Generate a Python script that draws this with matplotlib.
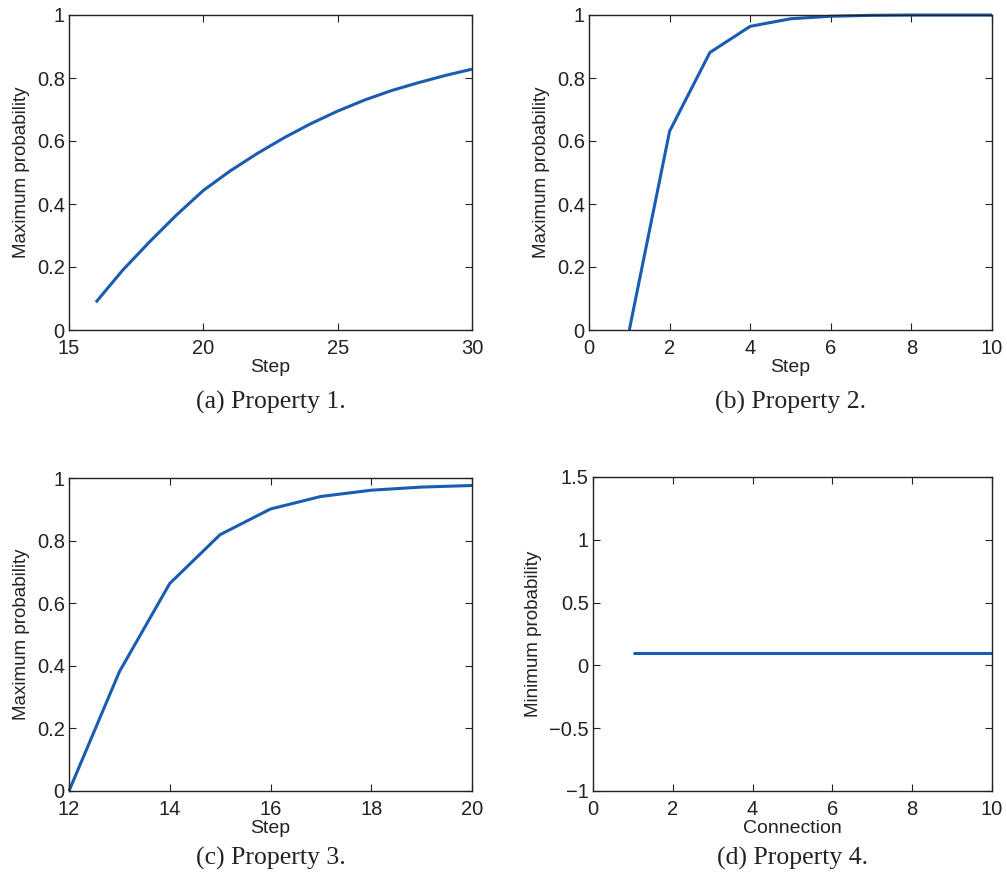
import matplotlib
matplotlib.use("Agg")
import matplotlib.pyplot as plt

# Data
steps_a = [16, 17, 18, 19, 20, 21, 22, 23, 24, 25, 26, 27, 28, 29, 30]
prob_a = [0.088, 0.19, 0.28, 0.365, 0.443, 0.505, 0.56, 0.61, 0.655, 0.695,
          0.73, 0.76, 0.785, 0.808, 0.828]

steps_b = [1, 2, 3, 4, 5, 6, 7, 8, 9, 10]
prob_b = [0.0, 0.631, 0.881, 0.964, 0.988, 0.996, 0.999, 1.0, 1.0, 1.0]

steps_c = [12, 13, 14, 15, 16, 17, 18, 19, 20]
prob_c = [0.0, 0.381, 0.663, 0.819, 0.901, 0.941, 0.961, 0.971, 0.976]

conn_d = [1, 2, 3, 4, 5, 6, 7, 8, 9, 10]
prob_d = [0.1, 0.1, 0.1, 0.1, 0.1, 0.1, 0.1, 0.1, 0.1, 0.1]

captions = ["(a) Property 1.", "(b) Property 2.", "(c) Property 3.", "(d) Property 4."]

W, H = 1007, 880
fig = plt.figure(figsize=(W / 100, H / 100), dpi=100)

LINE = "#1a5cb0"
SANS = ["Liberation Sans", "DejaVu Sans"]
SERIF = ["Liberation Serif", "DejaVu Serif"]


def mk_axes(l, t, r, b):
    return fig.add_axes([l / W, 1 - b / H, (r - l) / W, (b - t) / H])


def style(ax):
    ax.tick_params(direction="in", top=True, right=True, length=5, width=0.8,
                   labelsize=14.5, colors="#222222")
    ax.tick_params(axis="x", pad=6.5)
    ax.tick_params(axis="y", pad=3)
    for lab in ax.get_xticklabels() + ax.get_yticklabels():
        lab.set_family(SANS)
    for s in ax.spines.values():
        s.set_linewidth(1.0)
        s.set_color("#222222")


specs = [
    (69, 15, 472, 330, 402, steps_a, prob_a, (15, 30), [15, 20, 25, 30], (0, 1),
     [0, 0.2, 0.4, 0.6, 0.8, 1], ["0", "0.2", "0.4", "0.6", "0.8", "1"],
     "Step", "Maximum probability"),
    (589, 15, 992, 330, 402, steps_b, prob_b, (0, 10), [0, 2, 4, 6, 8, 10], (0, 1),
     [0, 0.2, 0.4, 0.6, 0.8, 1], ["0", "0.2", "0.4", "0.6", "0.8", "1"],
     "Step", "Maximum probability"),
    (69, 478, 472, 791, 858, steps_c, prob_c, (12, 20), [12, 14, 16, 18, 20], (0, 1),
     [0, 0.2, 0.4, 0.6, 0.8, 1], ["0", "0.2", "0.4", "0.6", "0.8", "1"],
     "Step", "Maximum probability"),
    (593, 477, 992, 791, 858, conn_d, prob_d, (0, 10), [0, 2, 4, 6, 8, 10], (-1, 1.5),
     [-1, -0.5, 0, 0.5, 1, 1.5], ["\u22121", "\u22120.5", "0", "0.5", "1", "1.5"],
     "Connection", "Minimum probability"),
]

for i, (l, t, r, b, capy, xs, ys, xl, xt, yl, yt, ytl, xlab, ylab) in enumerate(specs):
    ax = mk_axes(l, t, r, b)
    ax.plot(xs, ys, color=LINE, lw=2.2, clip_on=False, solid_capstyle="butt")
    ax.set_xlim(*xl)
    ax.set_ylim(*yl)
    ax.set_xticks(xt)
    ax.set_xticklabels([str(v) for v in xt])
    ax.set_yticks(yt)
    ax.set_yticklabels(ytl)
    style(ax)
    ax.set_xlabel(xlab, fontsize=14, family=SANS, labelpad=1, color="#222222")
    ax.set_ylabel(ylab, fontsize=13.5, family=SANS, labelpad=5, color="#222222")
    cx = (l + r) / 2 / W
    cy = 1 - capy / H
    fig.text(cx, cy, captions[i], ha="center", va="center", fontsize=18.5,
             family=SERIF, color="#222222")

fig.savefig("out.png", dpi=100)
